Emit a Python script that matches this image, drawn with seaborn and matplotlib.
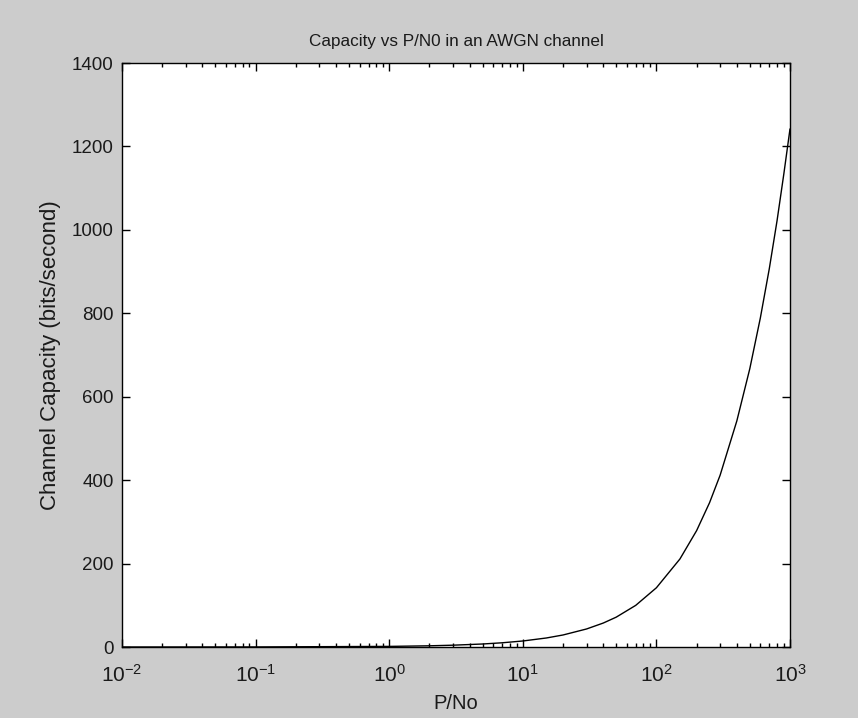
import pandas as pd
import matplotlib
matplotlib.use("Agg")
import matplotlib.pyplot as plt
import seaborn as sns

sns.set_style("ticks")
plt.rcParams['font.family'] = ['Liberation Sans', 'DejaVu Sans']
plt.rcParams['mathtext.fontset'] = 'custom'
plt.rcParams['mathtext.rm'] = 'Liberation Sans'
plt.rcParams['mathtext.it'] = 'Liberation Sans'
plt.rcParams['axes.unicode_minus'] = False
plt.rcParams['text.color'] = '#1a1a1a'
plt.rcParams['axes.labelcolor'] = '#1a1a1a'

# values
p_no = [0.01, 0.1, 1, 2, 3, 5, 7, 10, 15, 20, 30, 40, 50, 70, 100,
        150, 200, 250, 300, 400, 500, 600, 700, 800, 900, 1000]
capacity = [0.0144, 0.144, 1.44, 2.88, 4.33, 7.2, 10.1, 14.4, 21.6, 28.8,
            43.2, 57.4, 71.5, 99.8, 142, 211, 279, 346, 412, 542, 667,
            789, 907, 1022, 1135, 1242]
y_ticks = [0, 200, 400, 600, 800, 1000, 1200, 1400]

df = pd.DataFrame({'P/No': p_no, 'C': capacity})

fig = plt.figure(figsize=(8.58, 7.18), dpi=100, facecolor='#cccccc')
ax = fig.add_axes([122 / 858, 71 / 718, 668 / 858, 584 / 718])
ax.set_facecolor('white')

sns.lineplot(data=df, x='P/No', y='C', color='black', linewidth=1.0, ax=ax)

ax.set_xscale('log')
ax.set_xlim(1e-2, 1e3)
ax.set_ylim(0, 1400)
ax.set_yticks(y_ticks)

for s in ax.spines.values():
    s.set_color('black')
    s.set_linewidth(1.0)
    s.set_visible(True)

ax.tick_params(which='both', direction='in', top=True, right=True,
               color='black', labelcolor='#1a1a1a', width=1.0)
ax.tick_params(which='major', length=6)
ax.tick_params(which='minor', length=3)
ax.tick_params(axis='y', which='major', labelsize=13.5, pad=6)
ax.tick_params(axis='x', which='major', labelsize=15, pad=12)

ax.set_title('Capacity vs P/N0 in an AWGN channel', fontsize=12.3, pad=12)
ax.set_xlabel('P/No', fontsize=14.5, labelpad=6)
ax.set_ylabel('Channel Capacity (bits/second)', fontsize=16, labelpad=8)

fig.savefig('out.png', dpi=100, facecolor=fig.get_facecolor())
